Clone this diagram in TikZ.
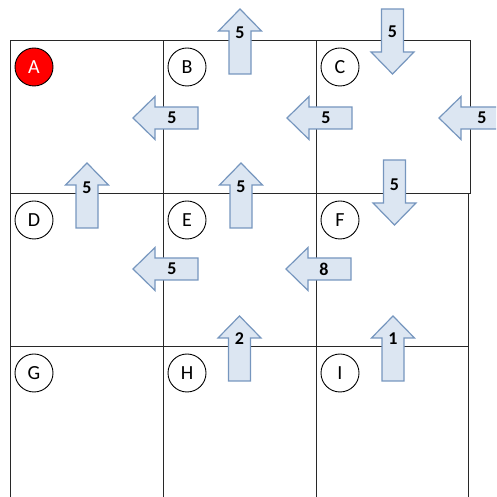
\documentclass[tikz,border=0pt]{standalone}
\usepackage{fontspec}
\setmainfont{Carlito}
\usepackage{xcolor}
\usepackage{tikz}

\definecolor{flowfill}{RGB}{220,230,242}
\definecolor{flowedge}{RGB}{118,150,190}
\definecolor{gridline}{RGB}{40,40,40}

\tikzset{
    cell/.style={circle, draw=black, line width=0.9pt, minimum size=38pt, inner sep=0pt, font=\fontsize{20}{22}\selectfont},
    flow/.style={fill=flowfill, draw=flowedge, line width=1.2pt, line join=miter},
    flowlabel/.style={inner sep=0pt, font=\fontsize{18}{20}\selectfont\bfseries}
}

\begin{document}
\begin{tikzpicture}[x=1pt,y=1pt]
        \clip (0,0) rectangle (496,497);
        % Grid of cells
        \draw[gridline, line width=1pt] (10,456) -- (470,456) -- (470,303);
        \draw[gridline, line width=1pt] (10,303) -- (470,303);
        \draw[gridline, line width=1pt] (10,150) -- (468,150);
        \draw[gridline, line width=1pt] (468,303) -- (468,0);
        \foreach \x in {10,163,316} {
            \draw[gridline, line width=1pt] (\x,456) -- (\x,0);
        }
        % Cell labels
        \foreach \n [count=\i from 0] in {B,C,D,E,F,G,H,I} {
            \pgfmathsetmacro{\cx}{34+153*mod(\i+1,3)}
            \pgfmathsetmacro{\cy}{430-153*int((\i+1)/3)}
            \node[cell] (\n) at (\cx,\cy) {\n};
        }
        \node[cell, fill=red, text=white] (A) at (34,430) {A};
        % Flow arrows: tail x / tail y / angle / label distance / value
        \foreach \x/\y/\a/\d/\w [count=\k] in {240/423/90/41/5, 392.5/488/-90/23/5,
                198/379/180/26/5, 352/379/180/26/5, 504/379/180/22/5,
                87/269/90/40/5, 241/269/90/41/5, 394.5/337/-90/25/5,
                198/228/180/26/5, 351/228/180/27/8,
                239.5/116/90/42/2, 393/116/90/42/1} {
            \begin{scope}[shift={(\x,\y)}, rotate=\a]
                \draw[flow] (0,-11) -- (43,-11) -- (43,-21.5) -- (65,0)
                    -- (43,21.5) -- (43,11) -- (0,11) -- cycle;
                \node[flowlabel] (w\k) at (\d,0) {\w};
            \end{scope}
        }
    \end{tikzpicture}
\end{document}
